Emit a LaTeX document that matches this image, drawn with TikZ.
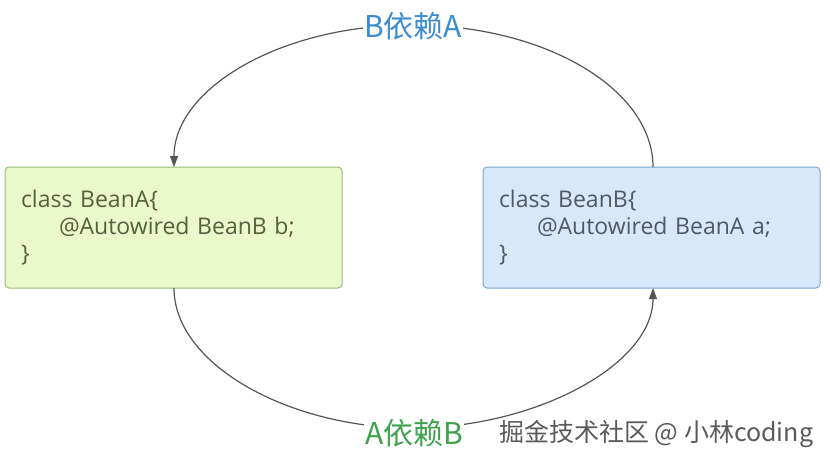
\documentclass[tikz,border=0pt]{standalone}
\usepackage{fontspec}
\setmainfont{Open Sans}
\newfontfamily\cjk{Noto Sans CJK SC}
\usetikzlibrary{arrows.meta}
\definecolor{boxAfill}{HTML}{EBF8C9}
\definecolor{boxAdraw}{HTML}{98C07A}
\definecolor{boxBfill}{HTML}{D6E8FA}
\definecolor{boxBdraw}{HTML}{7FA6D0}
\definecolor{txtA}{HTML}{56603F}
\definecolor{txtB}{HTML}{4F5965}
\definecolor{labA}{HTML}{3FA24C}
\definecolor{labB}{HTML}{3C8CD0}
\definecolor{linec}{HTML}{555555}
\definecolor{wm}{HTML}{5A5A5A}
\tikzset{
  codebox/.style={draw, rounded corners=4pt, line width=1pt, minimum width=337pt,
    minimum height=121pt, text width=305pt, inner xsep=16pt, align=left,
    font=\fontsize{23}{27}\selectfont},
  deplabel/.style={fill=white, inner sep=1pt, font=\cjk\fontsize{30}{34}\selectfont},
  dep/.style={draw=linec, line width=1.2pt, -{Triangle[length=11pt,width=8pt]}},
}
\begin{document}
\begin{tikzpicture}[x=1pt,y=-1pt]
\useasboundingbox (0,0) rectangle (830,464);
\fill[white] (0,0) rectangle (830,464);
\node[codebox, fill=boxAfill, draw=boxAdraw, text=txtA] (A) at (173.5,227.5)
  {class BeanA\{\\\hspace*{38pt}@Autowired BeanB b;\\\}};
\node[codebox, fill=boxBfill, draw=boxBdraw, text=txtB] (B) at (651.5,227.5)
  {class BeanB\{\\\hspace*{38pt}@Autowired BeanA a;\\\}};
\coordinate (top) at (412,25);
\coordinate (bot) at (412,428);
\coordinate (Atop) at (174,167);
\coordinate (Btop) at (653,167);
\coordinate (Abot) at (174,288);
\coordinate (Bbot) at (653,288);
\draw[dep] (Btop) .. controls (653,89) and (545,25) .. (top)
  .. controls (280,25) and (174,89) .. (Atop);
\draw[dep] (Abot) .. controls (174,365) and (290,428) .. (bot)
  .. controls (535,428) and (653,365) .. (Bbot);
\node[deplabel, text=labB] (lb) at (413,26) {B依赖A};
\node[deplabel, text=labA] (la) at (414,433) {A依赖B};
\node[anchor=west, text=wm, inner sep=0pt, font=\cjk\fontsize{25}{29}\selectfont] (wmk) at (499,434) {掘金技术社区 @ 小林coding};
\end{tikzpicture}
\end{document}
